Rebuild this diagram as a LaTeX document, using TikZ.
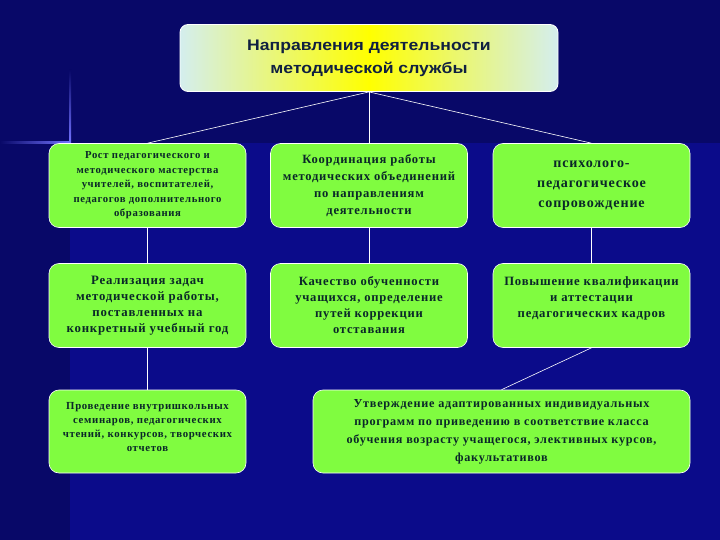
\documentclass[tikz,border=0pt]{standalone}
\usepackage{fontspec}
\setmainfont{Liberation Serif}
\newfontfamily\titlefont{Liberation Sans}[FakeStretch=1.15]
\newfontfamily\boxfont{Liberation Serif}[LetterSpace=6]
\definecolor{bgdark}{RGB}{8,8,104}
\definecolor{bglight}{RGB}{11,11,138}
\definecolor{boxgreen}{RGB}{128,252,64}
\definecolor{boxtext}{RGB}{10,40,40}
\definecolor{titletext}{RGB}{16,32,64}
\definecolor{paleblue}{RGB}{212,238,238}
\begin{document}
\begin{tikzpicture}[
			x=1pt, y=-1pt,
			every node/.style={font=\boxfont\bfseries},
			box/.style={draw=white, line width=0.6pt, fill=boxgreen, text=boxtext, rounded corners=10pt, minimum width=197pt, minimum height=84pt, align=center, inner sep=2pt},
			link/.style={draw=white, line width=0.6pt}
			]
			
			% Background
			\useasboundingbox (0,0) rectangle (720,540);
			\fill[bgdark] (0,0) rectangle (720,540);
			\fill[bglight] (70,143) rectangle (720,540);
			\shade[top color=bgdark, bottom color=blue!55!white] (69,70) rectangle (71,143);
			\shade[left color=bgdark, right color=blue!55!white] (0,142) rectangle (70,144);
			
			% Title
			\node (title) [draw=white, line width=0.8pt, rounded corners=8pt, minimum width=378pt, minimum height=67pt, align=center, text=titletext, left color=paleblue, right color=paleblue, middle color=yellow, font=\titlefont\bfseries\fontsize{15.3}{23}\selectfont] at (369,58) {Направления деятельности\\методической службы};
			
			% First row
			\node (growth) [box, font=\boxfont\bfseries\fontsize{10.7}{14.5}\selectfont] at (147.5,185.5) {Рост педагогического и\\методического мастерства\\учителей, воспитателей,\\педагогов дополнительного\\образования};
			\node (coord) [box, font=\boxfont\bfseries\fontsize{12.6}{17}\selectfont] at (369,185.5) {Координация работы\\методических объединений\\по направлениям\\деятельности};
			\node (support) [box, font=\boxfont\bfseries\fontsize{14.1}{20}\selectfont] at (591.5,185.5) {психолого-\\педагогическое\\сопровождение};
			
			% Second row
			\node (tasks) [box, font=\boxfont\bfseries\fontsize{12.8}{16}\selectfont] at (147.5,305.5) {Реализация задач\\методической работы,\\поставленных на\\конкретный учебный год};
			\node (quality) [box, font=\boxfont\bfseries\fontsize{12.6}{16}\selectfont] at (369,305.5) {Качество обученности\\учащихся, определение\\путей коррекции\\отставания};
			\node (qualif) [box, font=\boxfont\bfseries\fontsize{12.7}{16}\selectfont] at (591.5,305.5) {Повышение квалификации\\и аттестации\\педагогических кадров\\\mbox{}};
			
			% Third row
			\node (seminars) [box, minimum height=83pt, font=\boxfont\bfseries\fontsize{10.8}{14}\selectfont] at (147.5,431.5) {Проведение внутришкольных\\семинаров, педагогических\\чтений, конкурсов, творческих\\отчетов\\[-5pt]\mbox{}};
			\node (programs) [box, minimum width=377pt, minimum height=83pt, font=\boxfont\bfseries\fontsize{12.2}{18}\selectfont] at (501.5,431.5) {Утверждение адаптированных индивидуальных\\программ по приведению в соответствие класса\\обучения возрасту учащегося, элективных курсов,\\факультативов};
			
			% Links
			\draw[link] (title.south) -- (growth.north);
			\draw[link] (title.south) -- (coord.north);
			\draw[link] (title.south) -- (support.north);
			\draw[link] (growth.south) -- (tasks.north);
			\draw[link] (coord.south) -- (quality.north);
			\draw[link] (support.south) -- (qualif.north);
			\draw[link] (tasks.south) -- (seminars.north);
			\draw[link] (qualif.south) -- (programs.north);
		\end{tikzpicture}
\end{document}
